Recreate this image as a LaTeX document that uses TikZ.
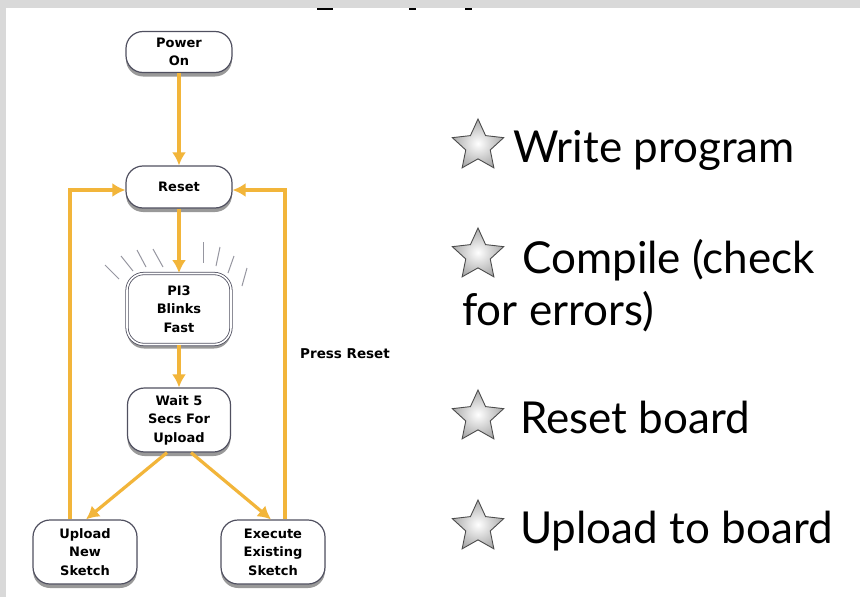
\documentclass[tikz,border=0pt]{standalone}
\usepackage{fontspec}
\setmainfont{Lato}
\newfontfamily\flowfamily{DejaVu Sans}
\usetikzlibrary{arrows.meta,shapes.geometric,shadows}
\definecolor{arrowc}{RGB}{242,181,58}
\definecolor{boxline}{RGB}{80,80,96}
\definecolor{frame}{RGB}{217,217,217}
\definecolor{blink}{RGB}{150,150,160}
\tikzset{
  box/.style={draw=boxline, line width=1.2pt, fill=white, rounded corners=17pt,
    align=center, inner sep=2pt,
    font=\flowfamily\bfseries\fontsize{13}{18.5}\selectfont,
    drop shadow={shadow xshift=0pt, shadow yshift=-4pt, fill=black, opacity=0.4}},
  dbox/.style={box, double=white, double distance=1.6pt, line width=0.8pt},
  arr/.style={draw=arrowc, line width=3.2pt, -{Latex[length=13pt,width=14pt]}},
  starbullet/.style={star, star points=5, star point ratio=2.1, minimum size=54pt,
    inner sep=0pt, draw=gray!60!black, line width=0.9pt, inner color=white, outer color=gray!65},
  item/.style={anchor=base west, inner sep=0pt, font=\fontsize{44}{52}\selectfont},
  blinkline/.style={draw=blink, line width=1pt},
}
\begin{document}
\begin{tikzpicture}[x=1pt,y=-1pt]
\useasboundingbox (0,0) rectangle (860,597);
\fill[frame] (0,0) rectangle (860,597);
\fill[white] (6,8) rectangle (860,597);
% fragments of cut-off title
\fill[black] (317,8) rectangle (333,9.6);
\fill[black] (409,8) rectangle (416,9.6);
\fill[black] (465,8) rectangle (472,9.6);

% flowchart nodes
\node[box, minimum width=106pt, minimum height=41pt] (power) at (179,52) {Power\\On};
\node[box, minimum width=106pt, minimum height=42pt] (reset) at (179,187) {Reset};
\node[dbox, minimum width=104pt, minimum height=71pt] (pi) at (179,309) {PI3\\Blinks\\Fast};
\node[box, minimum width=103pt, minimum height=64pt] (wait) at (179,420) {Wait 5\\Secs For\\Upload};
\node[box, minimum width=104pt, minimum height=64pt] (upload) at (85,552) {Upload\\New\\Sketch};
\node[box, minimum width=104pt, minimum height=64pt] (execute) at (273,552) {Execute\\Existing\\Sketch};

% blink lines
\draw[blinkline] (105,265) -- (119,279);
\draw[blinkline] (121,256) -- (133,271);
\draw[blinkline] (137,250) -- (146,267);
\draw[blinkline] (153,249) -- (163,267);
\draw[blinkline] (203,242) -- (203,263);
\draw[blinkline] (220,247) -- (216,266);
\draw[blinkline] (234,256) -- (228,273);
\draw[blinkline] (247,268) -- (242,286);

% connectors
\draw[arr] (power) -- (reset);
\draw[arr] (reset) -- (pi);
\draw[arr] (pi) -- (wait);
\draw[arr] ([xshift=-12pt]wait.south) -- ([xshift=1pt]upload.north);
\draw[arr] ([xshift=12pt]wait.south) -- ([xshift=-2pt]execute.north);
\draw[arr] ([xshift=-15pt]upload.north) |- ([yshift=-3pt]reset.west);
\draw[arr] ([xshift=12pt]execute.north) |- ([yshift=-3pt]reset.east);
\node[anchor=west, inner sep=0pt, font=\flowfamily\bfseries\fontsize{13.5}{16}\selectfont] (pr) at (300,354) {Press Reset};

% right-hand list
\node[starbullet] (s1) at (478,146) {};
\node[item] (t1) at (513,162) {Write program};
\node[starbullet] (s2) at (478,255) {};
\node[item] (t2) at (522,273) {Compile (check};
\node[item] (t2b) at (462,325) {for errors)};
\node[starbullet] (s3) at (478,417) {};
\node[item] (t3) at (520,433) {Reset board};
\node[starbullet] (s4) at (478,527) {};
\node[item] (t4) at (520,543) {Upload to board};
\end{tikzpicture}
\end{document}
